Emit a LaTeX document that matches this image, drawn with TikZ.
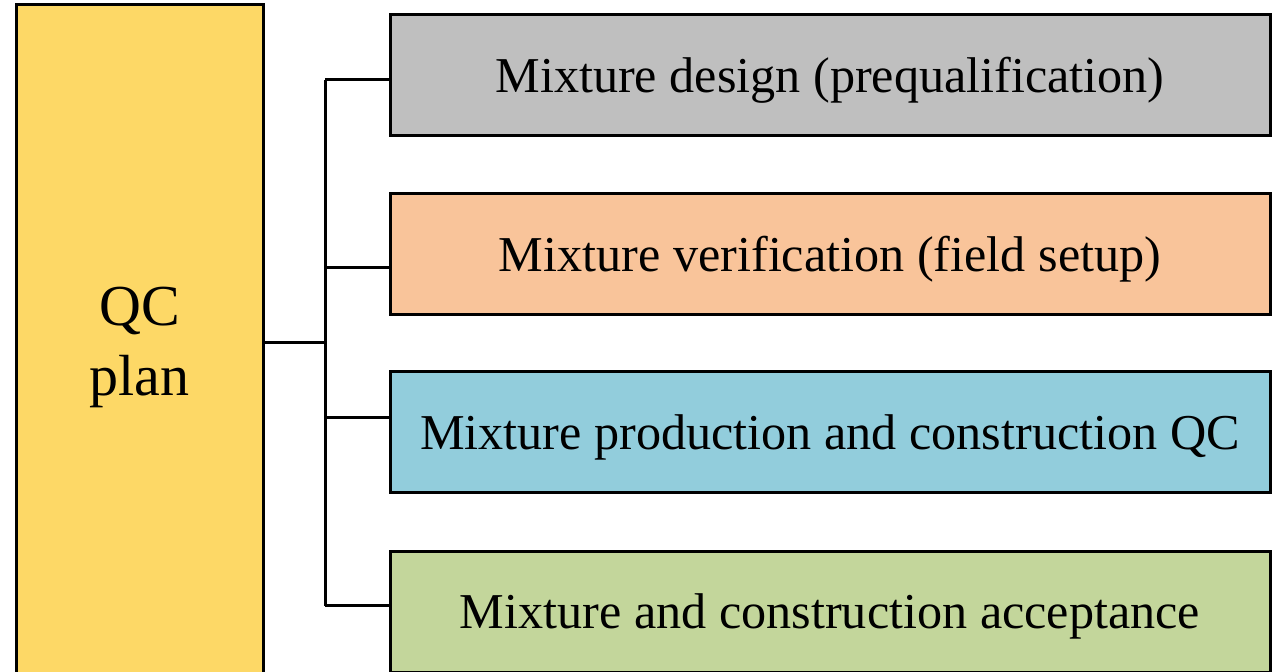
\documentclass[tikz,border=0pt]{standalone}
\usepackage{fontspec}
\setmainfont{Liberation Serif}
\usetikzlibrary{positioning, calc}

\definecolor{planyellow}{HTML}{FDD866}
\definecolor{designgray}{HTML}{BFBFBF}
\definecolor{verifpeach}{HTML}{F9C49A}
\definecolor{prodblue}{HTML}{92CDDC}
\definecolor{acceptgreen}{HTML}{C3D69B}

\begin{document}
\begin{tikzpicture}[x=0.5pt, y=-0.5pt,
		stage/.style={draw=black, line width=1.5pt, minimum width=440pt, minimum height=60.5pt, inner sep=0pt, text height=21.6pt, text depth=5pt, font=\fontsize{25.1}{30}\selectfont},
		link/.style={draw=black, line width=1.5pt}]
		\useasboundingbox (0,0) rectangle (1273,672);
		
		% The plan
		\node[draw=black, line width=1.5pt, fill=planyellow, minimum width=123.5pt, minimum height=342.5pt, align=center, font=\fontsize{29}{35}\selectfont] (plan) at (139.5,347.5) {QC\\plan};
		
		% The stages
		\node[stage, fill=designgray] (design) at (830,75.5) {Mixture design (prequalification)};
		\node[stage, fill=verifpeach] (verif) at (830,254.5) {Mixture verification (field setup)};
		\node[stage, fill=prodblue] (prod) at (830,432.5) {Mixture production and construction QC};
		\node[stage, fill=acceptgreen] (accept) at (830,612) {Mixture and construction acceptance};
		
		% Tree
		\coordinate (root) at (325,343);
		\coordinate (t1) at (325,80);
		\coordinate (t2) at (325,268);
		\coordinate (t3) at (325,418);
		\coordinate (t4) at (325,606);
		\draw[link] (root -| plan.east) -- (root);
		\draw[link] (t1) -- (t4);
		\draw[link] (t1) -- (t1 -| design.west);
		\draw[link] (t2) -- (t2 -| verif.west);
		\draw[link] (t3) -- (t3 -| prod.west);
		\draw[link] (t4) -- (t4 -| accept.west);
	\end{tikzpicture}
\end{document}
